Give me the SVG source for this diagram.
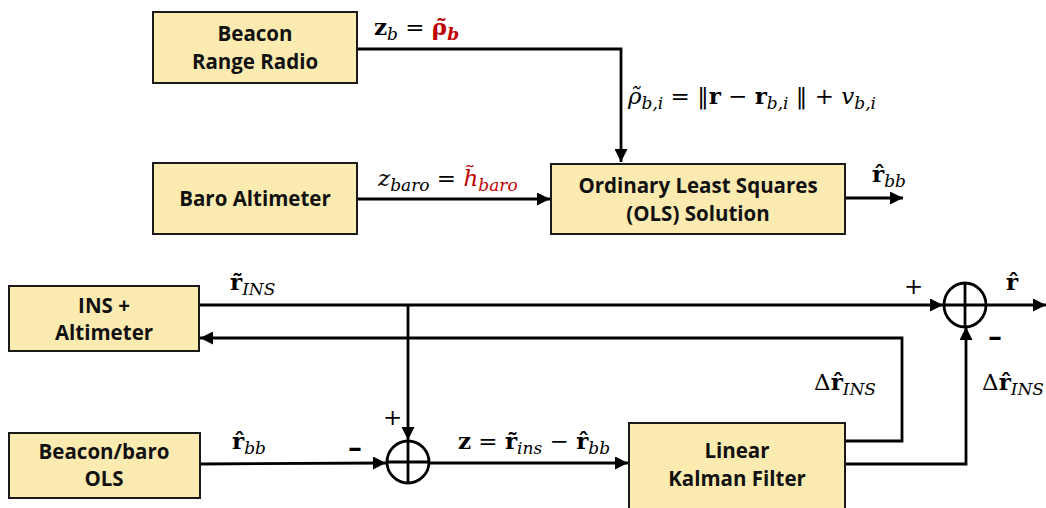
<svg xmlns="http://www.w3.org/2000/svg" width="1046" height="508" viewBox="0 0 1046 508">
<defs>
<style>
.box{fill:#FCEBB0;stroke:#1a1a1a;stroke-width:2}
.lbl{font-family:"Open Sans","Liberation Sans",sans-serif;font-weight:bold;font-size:20.5px;fill:#111;text-anchor:middle}
.ln{fill:none;stroke:#000;stroke-width:2.8}
.m{font-family:"DejaVu Serif","Liberation Serif",serif;font-size:23px;fill:#000}
.i{font-style:italic}
.b{font-weight:bold}
.s{font-size:17px;font-style:italic}
.red{fill:#C00000}
.sum{fill:#fff;stroke:#000;stroke-width:2.8}
.mn{font-family:"DejaVu Serif","Liberation Serif",serif;font-size:28px;font-weight:bold;fill:#000}
</style>
<marker id="ah" markerWidth="13" markerHeight="13" viewBox="0 0 12 12" refX="12" refY="6" orient="auto" markerUnits="userSpaceOnUse">
<path d="M0,0 L12,6 L0,12 z" fill="#000"/>
</marker>
</defs>
<rect width="1046" height="508" fill="#fff"/>

<g id="connectors">
<polyline class="ln" points="357,49 621,49 621,162" marker-end="url(#ah)"/>
<line class="ln" x1="357" y1="199" x2="550" y2="199" marker-end="url(#ah)"/>
<line class="ln" x1="845" y1="198" x2="903" y2="198" marker-end="url(#ah)"/>
<line class="ln" x1="199" y1="305" x2="943" y2="305" marker-end="url(#ah)"/>
<line class="ln" x1="987" y1="305" x2="1046" y2="305" marker-end="url(#ah)"/>
<polyline class="ln" points="845,441 902,441 902,338 200,338" marker-end="url(#ah)"/>
<polyline class="ln" points="845,464 966,464 966,327" marker-end="url(#ah)"/>
<polyline class="ln" points="408,305 408,440" marker-end="url(#ah)"/>
<line class="ln" x1="200" y1="464" x2="386" y2="463" marker-end="url(#ah)"/>
<line class="ln" x1="430" y1="463" x2="628" y2="463" marker-end="url(#ah)"/>
</g>

<g id="sum1">
<circle class="sum" cx="408" cy="462" r="21"/>
<line class="ln" x1="387" y1="462" x2="429" y2="462"/>
<line class="ln" x1="408" y1="441" x2="408" y2="483"/>
</g>
<g id="sum2">
<ellipse class="sum" cx="965" cy="305" rx="21" ry="22"/>
<line class="ln" x1="944" y1="305" x2="986" y2="305"/>
<line class="ln" x1="965" y1="283" x2="965" y2="327"/>
</g>

<g id="beacon">
<rect class="box" x="153" y="12" width="204" height="71"/>
<text class="lbl" x="255" y="41">Beacon</text>
<text class="lbl" x="255" y="69">Range Radio</text>
</g>
<g id="baro">
<rect class="box" x="153" y="163" width="204" height="71"/>
<text class="lbl" x="255" y="206">Baro Altimeter</text>
</g>
<g id="ols">
<rect class="box" x="551" y="164" width="294" height="70"/>
<text class="lbl" x="698" y="193">Ordinary Least Squares</text>
<text class="lbl" x="698" y="221">(OLS) Solution</text>
</g>
<g id="ins">
<rect class="box" x="9" y="286" width="190" height="65"/>
<text class="lbl" x="104" y="313">INS +</text>
<text class="lbl" x="104" y="340">Altimeter</text>
</g>
<g id="bbols">
<rect class="box" x="9" y="433" width="191" height="65"/>
<text class="lbl" x="104" y="459">Beacon/baro</text>
<text class="lbl" x="104" y="486">OLS</text>
</g>
<g id="kf">
<rect class="box" x="629" y="423" width="216" height="90"/>
<text class="lbl" x="737" y="458">Linear</text>
<text class="lbl" x="737" y="486">Kalman Filter</text>
</g>

<g id="labels">
<text class="m" x="374" y="35"><tspan class="b">z</tspan><tspan class="s" dy="5">b</tspan><tspan dy="-5"> = </tspan><tspan class="b red">ρ̃</tspan><tspan class="s b red" dy="5">b</tspan></text>
<text class="m" x="628" y="104"><tspan class="i">ρ̃</tspan><tspan class="s" dy="5">b,i</tspan><tspan dy="-5"> = ‖</tspan><tspan class="b">r</tspan><tspan> − </tspan><tspan class="b">r</tspan><tspan class="s" dy="5">b,i</tspan><tspan dy="-5"> ‖ + </tspan><tspan class="i">v</tspan><tspan class="s" dy="5">b,i</tspan></text>
<text class="m" x="378" y="186"><tspan class="i">z</tspan><tspan class="s" dy="5">baro</tspan><tspan dy="-5"> = </tspan><tspan class="i red">h̃</tspan><tspan class="s red" dy="5">baro</tspan></text>
<text class="m" x="872" y="182"><tspan class="b">r̂</tspan><tspan class="s" dy="5">bb</tspan></text>
<text class="m" x="230" y="290"><tspan class="b">r̃</tspan><tspan class="s" dy="5">INS</tspan></text>
<text class="m" x="904" y="294" font-size="18">+</text>
<text class="m" x="1006" y="290"><tspan class="b">r̂</tspan></text>
<text class="mn" x="988" y="346">–</text>
<text class="m" x="814" y="390">Δ<tspan class="b">r̂</tspan><tspan class="s" dy="5">INS</tspan></text>
<text class="m" x="982" y="390">Δ<tspan class="b">r̂</tspan><tspan class="s" dy="5">INS</tspan></text>
<text class="m" x="383" y="425" font-size="18">+</text>
<text class="mn" x="348" y="457">–</text>
<text class="m" x="232" y="449"><tspan class="b">r̂</tspan><tspan class="s" dy="5">bb</tspan></text>
<text class="m" x="458" y="449"><tspan class="b">z</tspan><tspan> = </tspan><tspan class="b">r̃</tspan><tspan class="s" dy="5">ins</tspan><tspan dy="-5"> − </tspan><tspan class="b">r̂</tspan><tspan class="s" dy="5">bb</tspan></text>
</g>
</svg>
